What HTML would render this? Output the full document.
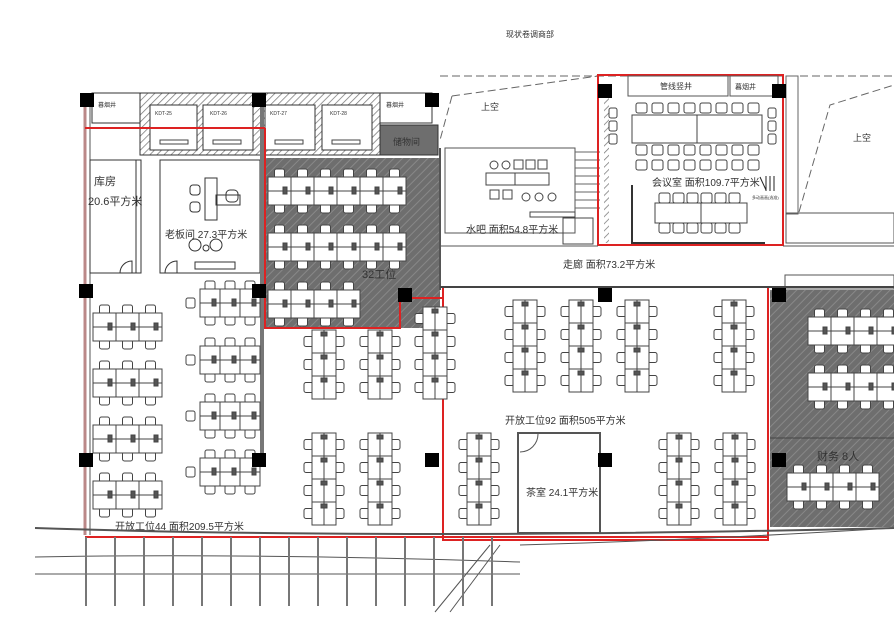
<!DOCTYPE html>
<html><head><meta charset="utf-8"><style>
html,body{margin:0;padding:0;background:#fff;}
svg{display:block;}
text{font-family:"Liberation Sans","Noto Sans CJK SC",sans-serif;fill:#333;}
</style></head><body>
<svg id="s" width="894" height="641" viewBox="0 0 894 641" xmlns="http://www.w3.org/2000/svg">
<defs>
<pattern id="hatch" width="6" height="6" patternUnits="userSpaceOnUse" patternTransform="rotate(45)">
<rect width="6" height="6" fill="#6e6e6e"/><line x1="0" y1="0" x2="0" y2="6" stroke="#888" stroke-width="2"/></pattern>
<pattern id="wh" width="5" height="5" patternUnits="userSpaceOnUse" patternTransform="rotate(45)">
<rect width="5" height="5" fill="#fff"/><line x1="0" y1="0" x2="0" y2="5" stroke="#777" stroke-width="1.5"/></pattern>
</defs>
<text x="506" y="37" font-size="8">现状卷调商部</text>

<polyline points="440,76 894,76" fill="none" stroke="#666" stroke-dasharray="8,4"/>
<polyline points="452,96 598,76" fill="none" stroke="#666" stroke-dasharray="8,4"/>
<polyline points="452,96 440,140" fill="none" stroke="#666" stroke-dasharray="8,4"/>
<polyline points="799,212 830,105 894,85" fill="none" stroke="#666" stroke-dasharray="8,4"/>
<text x="481" y="110" font-size="9">上空</text>
<text x="853" y="141" font-size="9">上空</text>

<rect x="140" y="93" width="240" height="62" fill="url(#wh)" stroke="#333"/>
<rect x="150" y="105" width="47" height="45" fill="#fff" stroke="#333"/>
<rect x="203" y="105" width="50" height="45" fill="#fff" stroke="#333"/>
<rect x="265" y="105" width="50" height="45" fill="#fff" stroke="#333"/>
<rect x="322" y="105" width="50" height="45" fill="#fff" stroke="#333"/>
<g font-size="5"><text x="155" y="115">KDT-25</text><text x="210" y="115">KDT-26</text><text x="270" y="115">KDT-27</text><text x="330" y="115">KDT-28</text></g>
<g fill="none" stroke="#444"><rect x="160" y="140" width="28" height="4"/><rect x="213" y="140" width="28" height="4"/><rect x="275" y="140" width="28" height="4"/><rect x="332" y="140" width="28" height="4"/></g>
<rect x="92" y="93" width="48" height="30" fill="#fff" stroke="#333"/>
<rect x="380" y="93" width="52" height="30" fill="#fff" stroke="#333"/>
<text x="98" y="107" font-size="6">暮烟井</text><text x="386" y="107" font-size="6">暮烟井</text>
<rect x="380" y="125" width="58" height="30" fill="#6e6e6e" stroke="#333"/>
<text x="393" y="145" font-size="9">储物间</text>

<line x1="85" y1="100" x2="85" y2="535" stroke="#b88" stroke-width="3"/>
<line x1="90" y1="100" x2="90" y2="535" stroke="#555" stroke-width="1"/>
<rect x="90" y="160" width="46" height="113" fill="none" stroke="#333"/>
<rect x="136" y="160" width="5" height="113" fill="none" stroke="#333"/>
<rect x="160" y="160" width="100" height="113" fill="none" stroke="#333"/>
<text x="94" y="185" font-size="11">库房</text>
<text x="88" y="205" font-size="11">20.6平方米</text>
<text x="165" y="238" font-size="10">老板间 27.3平方米</text>
<g fill="none" stroke="#333">
<rect x="205" y="178" width="12" height="42"/><rect x="216" y="195" width="24" height="10"/>
<rect x="190" y="185" width="10" height="10" rx="3"/><rect x="190" y="202" width="10" height="10" rx="3"/>
<rect x="226" y="190" width="12" height="12" rx="4"/>
<circle cx="195" cy="245" r="6"/><circle cx="216" cy="245" r="6"/><circle cx="206" cy="248" r="3"/>
<rect x="195" y="262" width="40" height="7"/>
<path d="M120 273 A12 12 0 0 1 132 261 V273"/><path d="M165 273 A12 12 0 0 1 177 261 V273"/>
</g>
<line x1="262" y1="100" x2="262" y2="460" stroke="#777" stroke-width="4"/>

<rect x="265" y="158" width="175" height="170" fill="url(#hatch)"/>
<polyline points="265,128 265,328 400,328 400,298 442,298" fill="none" stroke="#d22" stroke-width="2"/>
<line x1="85" y1="128" x2="265" y2="128" stroke="#d22" stroke-width="2"/>
<text x="362" y="278" font-size="11">32工位</text>

<rect x="445" y="148" width="130" height="85" fill="none" stroke="#555"/>
<line x1="440" y1="148" x2="440" y2="290" stroke="#555" stroke-width="2"/>
<g fill="none" stroke="#444">
<circle cx="494" cy="165" r="4"/><circle cx="506" cy="165" r="4"/><rect x="514" y="160" width="9" height="9"/><rect x="526" y="160" width="9" height="9"/><rect x="538" y="160" width="9" height="9"/>
<rect x="486" y="173" width="63" height="12"/><line x1="515" y1="173" x2="515" y2="185"/>
<rect x="490" y="190" width="9" height="9"/><rect x="503" y="190" width="9" height="9"/><circle cx="526" cy="197" r="4"/><circle cx="539" cy="197" r="4"/><circle cx="552" cy="197" r="4"/>
<rect x="530" y="212" width="45" height="5"/>
<rect x="563" y="218" width="30" height="26"/>
</g>
<g stroke="#666">
<line x1="575" y1="152" x2="600" y2="152"/><line x1="575" y1="160" x2="600" y2="160"/><line x1="575" y1="168" x2="600" y2="168"/><line x1="575" y1="176" x2="600" y2="176"/><line x1="575" y1="184" x2="600" y2="184"/><line x1="575" y1="192" x2="600" y2="192"/><line x1="575" y1="200" x2="600" y2="200"/><line x1="575" y1="208" x2="600" y2="208"/>
</g>
<text x="466" y="233" font-size="10">水吧 面积54.8平方米</text>
<text x="563" y="268" font-size="10">走廊 面积73.2平方米</text>

<rect x="598" y="75" width="185" height="170" fill="none" stroke="#d22" stroke-width="2"/>
<rect x="628" y="76" width="100" height="20" fill="#fff" stroke="#555"/>
<rect x="730" y="76" width="48" height="20" fill="#fff" stroke="#555"/>
<text x="660" y="89" font-size="8">管线竖井</text><text x="735" y="89" font-size="7">暮烟井</text>
<rect x="604" y="98" width="5" height="145" fill="url(#wh)"/>
<rect x="632" y="115" width="130" height="28" fill="none" stroke="#444"/>
<line x1="697" y1="115" x2="697" y2="143" stroke="#444"/>
<rect x="655" y="203" width="92" height="20" fill="none" stroke="#444"/>
<line x1="701" y1="203" x2="701" y2="223" stroke="#444"/>
<line x1="632" y1="185" x2="632" y2="244" stroke="#333" stroke-width="2"/>
<line x1="632" y1="243" x2="765" y2="243" stroke="#333" stroke-width="2"/>
<text x="652" y="186" font-size="10">会议室 面积109.7平方米</text>
<g stroke="#222"><line x1="760" y1="177" x2="766" y2="190"/><line x1="766" y1="176" x2="766" y2="191"/><line x1="770" y1="176" x2="770" y2="191"/><line x1="774" y1="176" x2="774" y2="191"/></g>
<text x="752" y="199" font-size="4">多动画画(选准)</text>
<rect x="786" y="76" width="12" height="138" fill="none" stroke="#666"/>
<rect x="786" y="213" width="108" height="30" fill="none" stroke="#555"/>

<rect x="443" y="287" width="325" height="253" fill="none" stroke="#d22" stroke-width="2"/>
<rect x="518" y="433" width="82" height="100" fill="none" stroke="#555" stroke-width="2"/>
<path d="M520 452 A18 18 0 0 0 538 434" fill="none" stroke="#555"/>
<text x="526" y="496" font-size="10">茶室 24.1平方米</text>
<text x="505" y="424" font-size="10">开放工位92 面积505平方米</text>
<text x="115" y="530" font-size="10">开放工位44 面积209.5平方米</text>

<rect x="770" y="290" width="124" height="237" fill="url(#hatch)"/>
<line x1="770" y1="438" x2="894" y2="438" stroke="#444"/>
<text x="817" y="460" font-size="11">财务 8人</text>
<rect x="785" y="275" width="109" height="14" fill="none" stroke="#555"/>

<line x1="440" y1="287" x2="894" y2="287" stroke="#444" stroke-width="2"/>
<line x1="440" y1="246" x2="598" y2="246" stroke="#555"/>
<line x1="783" y1="246" x2="894" y2="246" stroke="#555"/>

<g stroke="#555" fill="none">
<path d="M35 528 Q400 540 894 528" stroke-width="2"/>
<line x1="85" y1="537" x2="768" y2="537" stroke="#d22" stroke-width="2"/>
<path d="M35 557 Q250 553 520 562"/>
<path d="M35 574 L520 574"/>
<line x1="435" y1="612" x2="490" y2="545"/><line x1="450" y1="612" x2="500" y2="545"/>
<path d="M520 545 Q700 540 894 528"/>
</g>
<g id="fac" stroke="#777"></g>

<g id="desks" fill="#fff" stroke="#444" stroke-width="1"></g>
<g id="cols" fill="#000"></g>
</svg>
<script>
var NS="http://www.w3.org/2000/svg";
function el(g,t,a){var e=document.createElementNS(NS,t);for(var k in a)e.setAttribute(k,a[k]);document.getElementById(g).appendChild(e);return e;}
for(var x=86;x<520;x+=29){el("fac","line",{x1:x,y1:537,x2:x,y2:606,"stroke-width":2});}
[[80,93],[252,93],[425,93],[598,84],[772,84],[79,284],[252,284],[598,288],[772,288],[79,453],[252,453],[425,453],[598,453],[772,453],[398,288]].forEach(function(p){el("cols","rect",{x:p[0],y:p[1],width:14,height:14});});
function chair(x,y,w,h){el("desks","rect",{x:x,y:y,width:w,height:h,rx:2});}
function hc(x,y,n,dw,dh){for(var i=0;i<n;i++){var cx=x+i*dw;chair(cx+dw/2-5,y-8,10,9);chair(cx+dw/2-5,y+2*dh-1,10,9);
el("desks","rect",{x:cx,y:y,width:dw,height:dh});el("desks","rect",{x:cx,y:y+dh,width:dw,height:dh});
el("desks","rect",{x:cx+dw-8,y:y+dh-4,width:4,height:7,fill:"#555"});}}
function vc(x,y,r,dw,dh){for(var j=0;j<r;j++){var cy=y+j*dh;chair(x-8,cy+dh/2-5,9,10);chair(x+2*dw-1,cy+dh/2-5,9,10);
el("desks","rect",{x:x,y:cy,width:dw,height:dh});el("desks","rect",{x:x+dw,y:cy,width:dw,height:dh});
el("desks","rect",{x:x+dw-3,y:cy+2,width:6,height:4,fill:"#555"});}}
[313,369,425,481].forEach(function(y){hc(93,y,3,23,14);});
[289,346,402,458].forEach(function(y){hc(200,y,3,20,14);chair(186,y+9,9,10);});
hc(268,177,6,23,14);hc(268,233,6,23,14);hc(268,290,4,23,14);
vc(312,330,3,12,23);vc(368,330,3,12,23);vc(423,307,4,12,23);
vc(312,433,4,12,23);vc(368,433,4,12,23);
[513,569,625,722].forEach(function(x){vc(x,300,4,12,23);});
vc(467,433,4,12,23);vc(667,433,4,12,23);vc(723,433,4,12,23);
hc(808,317,4,23,14);hc(808,373,4,23,14);hc(787,473,4,23,14);
for(var i=0;i<8;i++){chair(636+i*16,103,11,10);chair(636+i*16,145,11,10);chair(636+i*16,160,11,10);}
for(var i=0;i<6;i++){chair(659+i*14,193,11,10);chair(659+i*14,223,11,10);}
for(var i=0;i<3;i++){chair(609,108+i*13,8,10);chair(768,108+i*13,8,10);}
</script>
</body></html>
